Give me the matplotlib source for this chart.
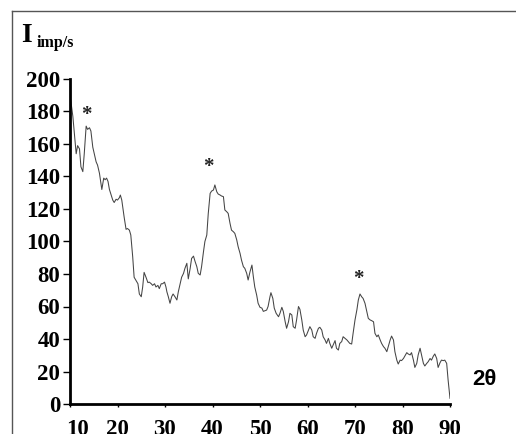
import matplotlib
matplotlib.use("Agg")
import matplotlib.pyplot as plt
import matplotlib.transforms as mtransforms
from matplotlib.lines import Line2D

# diffractogram
two_theta = [
    10.1, 10.6, 11.05, 11.3, 11.6, 12.0, 12.3, 12.7, 13.0, 13.4, 13.7, 14.1, 14.4, 14.8,
    15.5, 15.8, 16.2, 16.7, 17.1, 17.4, 17.7, 18.0, 18.3, 19.0, 19.3, 19.7, 20.0, 20.4,
    20.6, 20.9, 21.4, 21.8, 22.1, 22.5, 22.8, 23.2, 23.5, 23.9, 24.3, 24.6, 25.0, 25.3,
    25.6, 26.0, 26.4, 26.7, 27.1, 27.4, 27.8, 28.1, 28.5, 28.8, 29.2, 29.5, 29.9,
    30.2, 30.4, 30.7, 31.05, 31.4, 31.7, 32.1, 32.5, 32.8, 33.2, 33.5, 33.9, 34.2, 34.6,
    34.9, 35.3, 35.6, 36.0, 36.3, 36.7, 37.0, 37.4, 37.7, 38.1, 38.4, 38.8, 39.1, 39.5,
    39.8, 40.2, 40.5, 40.9, 41.2, 41.6, 41.9, 42.3, 42.6, 43.0, 43.3, 43.7, 44.0, 44.4,
    44.7, 45.1, 45.4, 45.8, 46.1, 46.5, 46.8, 47.2, 47.5, 47.9, 48.3, 48.6, 48.9, 49.3,
    49.6, 50.0, 50.4, 50.7, 51.05, 51.4, 51.7, 52.1, 52.3, 52.7, 53.0, 53.4, 53.9, 54.2,
    54.6, 54.9, 55.3, 55.6, 56.0, 56.3, 56.7, 57.0, 57.4, 57.7, 58.1, 58.4, 58.8, 59.1,
    59.5, 59.8, 60.2, 60.5, 60.9, 61.2, 61.6, 61.9, 62.3, 62.6, 63.0, 63.3, 63.7, 64.0,
    64.4, 64.7, 65.1, 65.4, 65.8, 66.1, 66.5, 66.8, 67.2, 67.5, 67.9, 68.3, 68.6, 68.9,
    69.3, 69.6, 70.0, 70.4, 70.7, 71.05, 71.4, 71.7, 72.1, 72.5, 72.8, 73.2, 73.5, 73.9,
    74.2, 74.6, 74.9, 75.3, 75.6, 76.0, 76.3, 76.7, 77.0, 77.4, 77.7, 78.1, 78.4, 78.8,
    79.1, 79.5, 79.8, 80.2, 80.5, 80.9, 81.2, 81.6, 81.9, 82.3, 82.6, 83.0, 83.3, 83.7,
    84.0, 84.4, 84.7, 85.1, 85.4, 85.8, 86.1, 86.5, 86.8, 87.2, 87.5, 87.9, 88.2, 88.6,
    88.9, 89.3, 89.6, 90.0,
]
intensity = [
    188, 177, 162, 154, 159, 157, 146, 143, 154, 171, 169, 170, 168, 158,
    149, 147, 142, 132, 139, 138, 139, 137, 132, 125.5, 124, 126, 125.5, 127,
    128.6, 125.5, 115, 107.5, 108, 107, 104, 90.6, 78, 76, 74, 67.7, 66, 72,
    81, 78, 74.7, 75, 74, 73, 74, 72, 73, 71, 74, 74, 75,
    72, 69, 66, 62, 66, 67.7, 66, 64, 69, 74, 78, 80.4, 83.5, 86.6,
    77, 83.5, 89.6, 91, 88, 84.5, 80.4, 79.4, 84.5, 93.7, 100, 104, 117, 129.6,
    131, 131.7, 134.8, 130.6, 129.2, 128.6, 128, 127.6, 119.4, 118.3, 117.3, 111, 107, 106,
    105, 101, 96.8, 92.7, 88.6, 84.5, 83.5, 80.4, 76.3, 81.4, 85.5, 78.3, 72, 67,
    62, 59.5, 59, 57, 57.4, 57.8, 60, 66, 68.5, 65, 59, 55.8, 53.7, 55.8,
    59.5, 57, 50.6, 46.6, 50.6, 55.8, 54.8, 47.6, 46.6, 51.7, 60, 58.3, 51.7, 45.5,
    41.4, 42.5, 45.5, 47.6, 45.5, 41.4, 40.4, 43.5, 46.6, 47.2, 45.5, 41.4, 39.4, 37.3,
    40.4, 37.3, 34.3, 36.3, 39, 34.3, 33.2, 37.3, 38.4, 41.4, 40.4, 39.4, 38.4, 37.3,
    36.9, 43.5, 51.7, 58, 64, 67.7, 66, 65, 62, 56.8, 52.7, 51.7, 51.3, 50.6,
    43.5, 41.4, 42.5, 39.4, 37.3, 35.3, 34.3, 32.2, 35.3, 39.4, 41.8, 39.4, 32.2, 27,
    24.6, 27, 26.7, 28, 29.5, 31.6, 30.8, 30.2, 31.6, 27, 22.5, 25, 30.2, 34.3,
    30.2, 25, 23.4, 25, 26, 28, 27, 29.5, 30.8, 28, 22.5, 25.4, 27, 26.7,
    27, 25, 14.8, 3.5,
]

# peak markers
peak_x = [13.4, 39.1, 70.7]
peak_y = [178, 146, 77]

x_ticks = [10, 20, 30, 40, 50, 60, 70, 80, 90]
y_ticks = [0, 20, 40, 60, 80, 100, 120, 140, 160, 180, 200]

serif = "Liberation Serif"

fig = plt.figure(figsize=(5.16, 4.34), dpi=100)
fig.patch.set_facecolor("white")
ax = fig.add_axes([70 / 516, 1 - 404 / 434, 380 / 516, 325 / 434])

ax.plot(two_theta, intensity, color="#444444", linewidth=0.75)

for px, py in zip(peak_x, peak_y):
    ax.text(px, py, "*", ha="center", va="center", fontsize=15,
            fontfamily=serif, fontweight="bold", color="#222222")

ax.set_xlim(10, 90)
ax.set_ylim(0, 200)
ax.set_xticks(x_ticks)
ax.set_yticks(y_ticks)

for side in ["top", "right"]:
    ax.spines[side].set_visible(False)
for side in ["left", "bottom"]:
    ax.spines[side].set_linewidth(2.0)
    ax.spines[side].set_color("black")

ax.tick_params(axis="y", direction="out", length=5, width=1, pad=2, colors="black")
ax.tick_params(axis="x", direction="out", length=2.5, width=1, pad=8, colors="black")
for lbl in ax.get_xticklabels() + ax.get_yticklabels():
    lbl.set_fontfamily(serif)
    lbl.set_fontweight("bold")
    lbl.set_fontsize(16.5)

# first x label sits a bit to the right in the original
first = ax.get_xticklabels()[0]
first.set_transform(first.get_transform() +
                    mtransforms.ScaledTranslation(7 / 100, 0, fig.dpi_scale_trans))

# axis titles
fig.text(21 / 516, 1 - 42 / 434, "I", fontsize=20, fontfamily=serif,
         fontweight="bold", ha="left", va="baseline")
fig.text(37 / 516, 1 - 47 / 434, "imp/s", fontsize=11.5, fontfamily=serif,
         fontweight="bold", ha="left", va="baseline")
fig.text(472 / 516, 1 - 385 / 434, "2θ", fontsize=16, fontfamily="Liberation Sans",
         fontweight="bold", ha="left", va="baseline")

# outer frame: only left and top edges show in the original
left = 11.5 / 516
top = 1 - 10.5 / 434
fig.add_artist(Line2D([left, left], [0, top], transform=fig.transFigure,
                      color="#555555", linewidth=1.0))
fig.add_artist(Line2D([left, 1], [top, top], transform=fig.transFigure,
                      color="#555555", linewidth=1.0))

plt.savefig("out.png", dpi=100, facecolor="white")
plt.close()
